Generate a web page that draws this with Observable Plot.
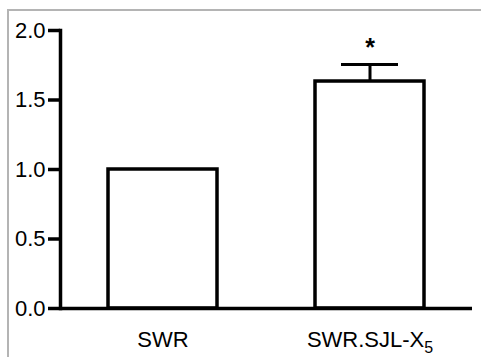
<!DOCTYPE html>
<html>
<head>
<meta charset="utf-8">
<script src="https://cdn.jsdelivr.net/npm/d3@7"></script>
<script src="https://cdn.jsdelivr.net/npm/@observablehq/plot@0.6"></script>
<style>
  html, body { margin: 0; padding: 0; background: #fff; }
  #wrap { position: relative; width: 481px; height: 357px; overflow: hidden; }
  #border { position: absolute; left: 7px; top: 9px; right: -10px; bottom: -10px;
            border-top: 2px solid #b4b4b4; border-left: 2px solid #b4b4b4; }
  #chart { position: absolute; left: 0; top: 0; }
</style>
</head>
<body>
<div id="wrap"><div id="border"></div><div id="chart"></div></div>
<script>
const categories = ["SWR", "SWR.SJL-X5"];
const values = [1.0, 1.633];
const errors = [0, 0.122];
const significance = ["", "*"];
const yTicks = [0, 0.5, 1.0, 1.5, 2.0];

const data = categories.map((c, i) => ({
  group: c, value: values[i], err: errors[i], sig: significance[i]
}));
const errData = data.filter(d => d.err > 0);
const sigData = data.filter(d => d.sig);

const font = "'Liberation Sans', Arial, Helvetica, sans-serif";

const chart = Plot.plot({
  width: 481,
  height: 357,
  marginLeft: 60,
  marginRight: 9,
  marginTop: 30,
  marginBottom: 49,
  style: { fontFamily: font, background: "transparent", color: "#000", overflow: "visible" },
  x: { domain: categories, paddingInner: 0.475, paddingOuter: 0.23, label: null },
  y: { domain: [0, 2], label: null },
  marks: [
    Plot.barY(data, { x: "group", y: "value", fill: "white", stroke: "black", strokeWidth: 3.5 }),
    Plot.ruleX(errData, { x: "group", y1: "value", y2: d => d.value + d.err, stroke: "black", strokeWidth: 3 }),
    Plot.tickY(errData, { x: "group", y: d => d.value + d.err, stroke: "black", strokeWidth: 3, insetLeft: 26, insetRight: 26 }),
    Plot.text(sigData, { x: "group", y: d => d.value + d.err, text: "sig", dy: -17, fontSize: 25, fontWeight: "bold", fill: "black" }),
    Plot.axisY({ ticks: yTicks, tickFormat: d3.format(".1f"), tickSize: 12, tickPadding: 3, strokeWidth: 3.5, fontSize: 22, label: null }),
    Plot.axisX({ tickSize: 0, tickPadding: 23, fontSize: 22, label: null }),
    Plot.frame({ anchor: "left", stroke: "black", strokeWidth: 3.5 }),
    Plot.ruleY([0], { stroke: "black", strokeWidth: 3.5 })
  ]
});

// render subscript 5 in the second category label
chart.querySelectorAll("text").forEach(t => {
  if (t.textContent === "SWR.SJL-X5") {
    const tsp = t.querySelector("tspan") || t;
    tsp.textContent = "SWR.SJL-X";
    const sub = document.createElementNS("http://www.w3.org/2000/svg", "tspan");
    sub.setAttribute("dy", "6");
    sub.setAttribute("font-size", "16");
    sub.textContent = "5";
    tsp.appendChild(sub);
  }
});

document.getElementById("chart").appendChild(chart);
</script>
</body>
</html>
